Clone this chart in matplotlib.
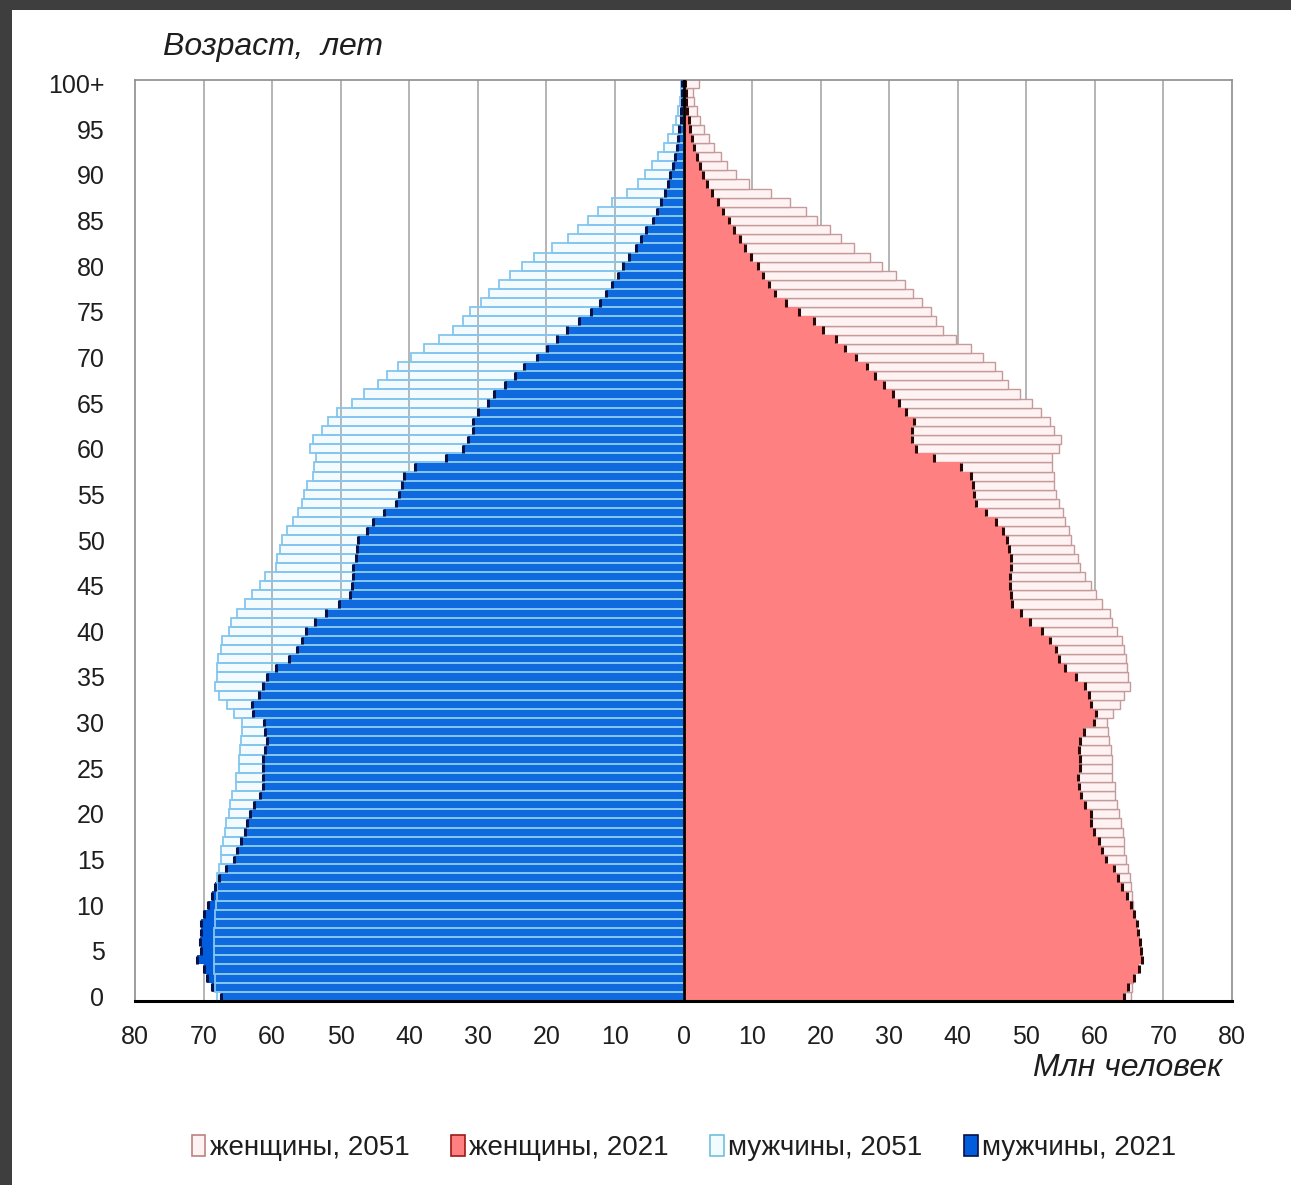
import matplotlib
matplotlib.use('Agg')
import matplotlib.pyplot as plt
from matplotlib.patches import Rectangle
import numpy as np

ages = list(range(0, 101))

# millions of people, age 0 .. 100+
men_2021 = [67.5, 68.7, 69.5, 70.0, 70.9, 70.4, 70.5, 70.4, 70.4, 70.0,
            69.4, 68.7, 68.3, 67.8, 66.7, 65.6, 65.1, 64.6, 63.9, 63.6,
            63.2, 62.6, 61.7, 61.3, 61.3, 61.3, 61.3, 61.0, 60.8, 61.0,
            61.2, 62.8, 62.9, 61.9, 61.4, 60.8, 59.4, 57.6, 56.3, 55.6,
            55.1, 53.7, 52.2, 50.3, 48.6, 48.3, 48.2, 48.2, 47.8, 47.6,
            47.5, 46.2, 45.3, 43.7, 42.0, 41.5, 41.1, 40.8, 39.1, 34.7,
            32.1, 31.5, 30.7, 30.7, 30.0, 28.5, 27.6, 26.0, 24.6, 23.2,
            21.3, 19.9, 18.5, 17.0, 15.2, 13.5, 12.2, 11.3, 10.4, 9.6,
            8.8, 7.9, 7.0, 6.2, 5.4, 4.5, 3.9, 3.3, 2.7, 2.3,
            1.9, 1.6, 1.3, 1.0, 0.8, 0.6, 0.4, 0.3, 0.2, 0.2, 0.15]

men_2051 = [68.1, 68.3, 68.4, 68.5, 68.5, 68.5, 68.5, 68.5, 68.4, 68.3,
            68.2, 68.1, 68.0, 68.0, 67.8, 67.5, 67.4, 67.1, 66.9, 66.7,
            66.3, 66.1, 65.8, 65.3, 65.2, 64.9, 64.9, 64.7, 64.5, 64.4,
            64.4, 65.6, 66.6, 67.8, 68.4, 68.1, 68.0, 67.9, 67.5, 67.3,
            66.3, 66.0, 65.1, 64.0, 62.9, 61.8, 61.1, 59.5, 59.3, 58.9,
            58.6, 57.8, 56.9, 56.2, 55.7, 55.4, 54.9, 54.1, 53.9, 53.6,
            54.5, 54.1, 52.7, 51.8, 50.5, 48.4, 46.6, 44.5, 43.2, 41.6,
            39.8, 37.8, 35.7, 33.6, 32.1, 31.1, 29.6, 28.3, 26.9, 25.3,
            23.6, 21.8, 19.2, 16.8, 15.4, 14.0, 12.4, 10.5, 8.3, 6.7,
            5.6, 4.6, 3.7, 2.9, 2.3, 1.5, 1.1, 0.75, 0.55, 0.4, 0.3]

women_2021 = [64.2, 64.9, 65.7, 66.4, 66.9, 66.7, 66.6, 66.3, 66.2, 65.7,
              65.2, 64.7, 64.0, 63.4, 62.8, 61.6, 61.1, 60.6, 59.9, 59.5,
              59.4, 58.6, 58.0, 57.7, 57.5, 57.9, 57.8, 57.7, 57.9, 58.4,
              59.8, 60.2, 59.4, 59.1, 58.6, 57.2, 55.7, 54.7, 54.3, 53.5,
              52.3, 50.6, 49.2, 47.9, 47.7, 47.6, 47.6, 47.8, 47.7, 47.5,
              47.2, 46.6, 45.6, 44.1, 42.7, 42.4, 42.2, 41.9, 40.5, 36.5,
              33.9, 33.4, 33.4, 33.6, 32.5, 31.4, 30.6, 29.3, 28.0, 26.8,
              25.2, 23.6, 22.3, 20.4, 19.0, 16.9, 15.0, 13.3, 12.4, 11.6,
              10.8, 9.9, 9.0, 8.2, 7.4, 6.6, 5.8, 5.0, 4.2, 3.5,
              2.9, 2.4, 2.0, 1.6, 1.3, 1.0, 0.75, 0.55, 0.4, 0.3, 0.2]

women_2051 = [65.3, 65.4, 65.5, 65.6, 65.8, 65.9, 65.9, 65.9, 65.8, 65.7,
              65.6, 65.4, 65.3, 65.1, 64.8, 64.6, 64.3, 64.2, 64.1, 63.8,
              63.5, 63.2, 63.0, 62.9, 62.5, 62.5, 62.5, 62.3, 62.0, 61.9,
              61.8, 62.7, 63.7, 64.2, 65.1, 64.8, 64.7, 64.6, 64.2, 64.0,
              63.2, 62.5, 62.2, 61.1, 60.2, 59.4, 58.6, 57.8, 57.5, 56.9,
              56.5, 56.2, 55.6, 55.4, 54.8, 54.4, 54.1, 54.0, 53.8, 53.8,
              54.8, 55.1, 54.1, 53.4, 52.2, 50.8, 49.1, 47.3, 46.5, 45.5,
              43.7, 41.9, 39.8, 37.9, 36.9, 36.1, 34.8, 33.5, 32.3, 31.0,
              29.0, 27.2, 24.9, 22.9, 21.3, 19.4, 17.8, 15.6, 12.7, 9.5,
              7.6, 6.4, 5.4, 4.5, 3.7, 3.0, 2.4, 1.9, 1.6, 1.4, 2.2]

x_ticks = list(range(-80, 81, 10))
y_ticks = list(range(0, 101, 5))
y_labels = [str(a) for a in y_ticks[:-1]] + ['100+']

plt.rcParams['font.family'] = ['Liberation Sans', 'DejaVu Sans']

W, H = 1291, 1185
fig = plt.figure(figsize=(W / 100, H / 100), dpi=100)
fig.patch.set_facecolor('#3e3e3e')
fig.patches.append(Rectangle((12 / W, 0), 1, 1 - 10 / H, transform=fig.transFigure,
                             facecolor='white', edgecolor='none', zorder=-10))

ax = fig.add_axes([135 / W, 1 - 1001 / H, (1232 - 135) / W, (1001 - 80) / H])
ax.set_zorder(2)
ax.set_facecolor('white')

ages_arr = np.array(ages)
m21 = np.array(men_2021)
m51 = np.array(men_2051)
w21 = np.array(women_2021)
w51 = np.array(women_2051)

for gx in x_ticks[1:-1]:
    ax.axvline(gx, color='#a8a8a8', lw=1.2, zorder=0)

# women: 2051 outlines behind, 2021 solid in front
b_w51 = ax.barh(ages_arr, w51, height=1.0, color='#fff2f2', edgecolor='#c49a9a',
                linewidth=1.0, zorder=1, label='женщины, 2051')
b_w21 = ax.barh(ages_arr, w21, height=1.0, color='#ff8080', edgecolor='none',
                zorder=2, label='женщины, 2021')
ax.vlines(w21, ages_arr - 0.42, ages_arr + 0.42, color='#2a0808', lw=2.2, zorder=3)

# men: 2021 solid, 2051 translucent outlines laid over it
b_m21 = ax.barh(ages_arr, -m21, height=1.0, color='#015ddc', edgecolor='none',
                zorder=1, label='мужчины, 2021')
ax.vlines(-m21, ages_arr - 0.42, ages_arr + 0.42, color='#06124a', lw=2.2, zorder=3)
b_m51 = ax.barh(ages_arr, -m51, height=1.0, color=(0.6, 0.87, 1.0, 0.1),
                edgecolor='#84c6ee', linewidth=1.3, zorder=2, label='мужчины, 2051')

ax.axvline(0, color='black', lw=2, zorder=4)

ax.set_xlim(-80, 80)
ax.set_ylim(-0.5, 100.4)
ax.set_xticks(x_ticks)
ax.set_xticklabels([str(abs(v)) for v in x_ticks])
ax.set_yticks(y_ticks)
ax.set_yticklabels(y_labels)
ax.tick_params(axis='both', length=0, labelsize=18, colors='#1e1e1e')
ax.tick_params(axis='x', pad=17)
ax.tick_params(axis='y', pad=22)

for side in ['left', 'top', 'right']:
    ax.spines[side].set_color('#8c8c8c')
    ax.spines[side].set_linewidth(1.2)
ax.spines['bottom'].set_color('black')
ax.spines['bottom'].set_linewidth(2.2)

fig.text(163 / W, 1 - 47 / H, 'Возраст,  лет', fontsize=23, style='italic',
         color='#1e1e1e', ha='left', va='center')
fig.text(1222 / W, 1 - 1068 / H, 'Млн человек', fontsize=23, style='italic',
         color='#1e1e1e', ha='right', va='center')

leg = fig.legend(handles=[b_w51, b_w21, b_m51, b_m21],
                 labels=['женщины, 2051', 'женщины, 2021', 'мужчины, 2051', 'мужчины, 2021'],
                 loc='center', bbox_to_anchor=(684 / W, 1 - 1148 / H), ncol=4,
                 frameon=False, fontsize=20, handlelength=0.5, handleheight=0.8,
                 handletextpad=0.15, columnspacing=1.5, labelcolor='#1e1e1e')
for patch, ec in zip(leg.get_patches(), ['#c08080', '#a01818', '#70c0dc', '#06124a']):
    patch.set_edgecolor(ec)
    patch.set_linewidth(1.2)
leg.get_patches()[2].set_facecolor('#f2fbff')

fig.savefig('out.png', dpi=100, facecolor=fig.get_facecolor())
